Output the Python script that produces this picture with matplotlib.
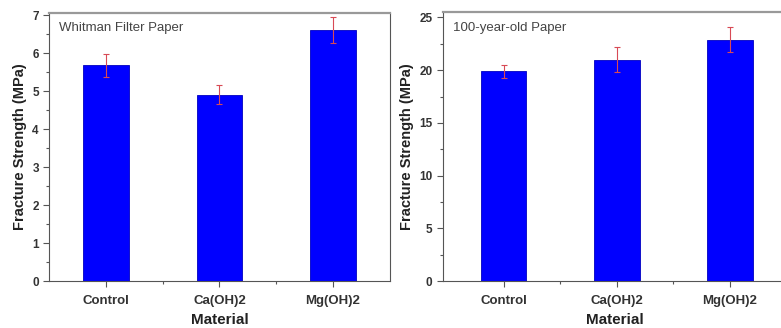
"""Fracture strength of treated papers: two bar panels (filter paper, 100-year-old paper)."""

import numpy as np
import matplotlib
matplotlib.use("Agg")
import matplotlib.pyplot as plt
from matplotlib.ticker import MultipleLocator, FixedLocator

plt.rcParams["font.family"] = ["Liberation Sans", "DejaVu Sans"]

materials = ["Control", "Ca(OH)2", "Mg(OH)2"]

whatman_mean = [5.68, 4.90, 6.61]
whatman_err = [0.30, 0.25, 0.35]

old_mean = [19.9, 21.0, 22.9]
old_err = [0.6, 1.2, 1.2]

BLUE = "#0000ff"
RED = "#d84a55"
SPINE = "#555555"

fig = plt.figure(figsize=(7.81, 3.28), dpi=100)
ax1 = fig.add_axes([0.063, 0.143, 0.436, 0.817])
ax2 = fig.add_axes([0.567, 0.143, 0.44, 0.820])


def panel(ax, mean, err, ymax, ymajor, yminor, label, xlim):
    x = np.arange(1, len(materials) + 1)
    ax.bar(x, mean, width=0.4, color=BLUE, edgecolor="#0000c0", lw=0.6, zorder=2)
    ax.errorbar(x, mean, yerr=err, fmt="none", ecolor=RED, elinewidth=0.8,
                capsize=2.5, capthick=0.8, zorder=3)
    ax.set_xlim(*xlim)
    ax.set_ylim(0, ymax)
    ax.set_xticks(x)
    ax.set_xticklabels(materials, fontsize=9.5, fontweight="bold", color="#333333")
    ax.xaxis.set_minor_locator(FixedLocator([1.5, 2.5]))
    ax.yaxis.set_major_locator(MultipleLocator(ymajor))
    ax.yaxis.set_minor_locator(MultipleLocator(yminor))
    for t in ax.get_yticklabels():
        t.set_fontsize(8.5)
        t.set_fontweight("bold")
        t.set_color("#333333")
    ax.tick_params(which="major", direction="out", length=4, width=0.8, color=SPINE)
    ax.tick_params(which="minor", direction="out", length=2, width=0.8, color=SPINE)
    ax.tick_params(axis="x", pad=6)
    ax.set_xlabel("Material", fontsize=11, fontweight="bold", color="#222222", labelpad=4)
    ax.set_ylabel("Fracture Strength (MPa)", fontsize=10.5, fontweight="bold",
                  color="#222222", labelpad=4)
    for s in ax.spines.values():
        s.set_color(SPINE)
        s.set_linewidth(0.8)
    ax.spines["top"].set_color("#999999")
    ax.spines["top"].set_linewidth(1.6)
    ax.text(0.03, 0.965, label, transform=ax.transAxes, fontsize=9.5,
            color="#444444", va="top", ha="left")


panel(ax1, whatman_mean, whatman_err, 7.05, 1, 0.5, "Whitman Filter Paper", (0.5, 3.5))
panel(ax2, old_mean, old_err, 25.5, 5, 2.5, "100-year-old Paper", (0.46, 3.5))

fig.savefig("out.png", dpi=100)
